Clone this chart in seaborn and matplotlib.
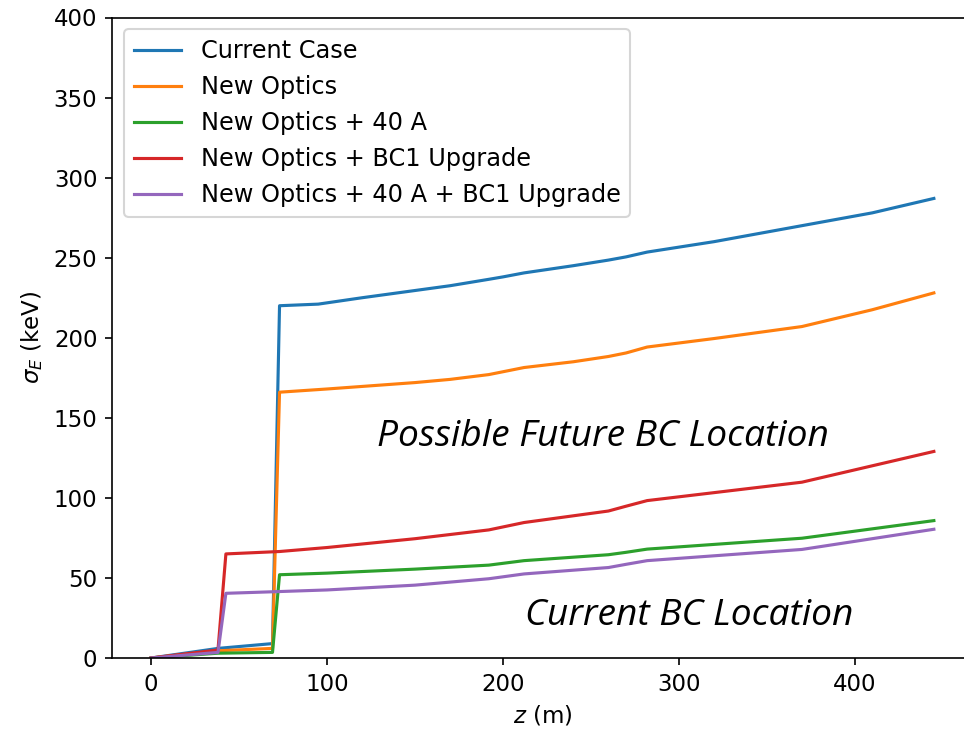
import numpy as np
import pandas as pd
import matplotlib
matplotlib.use("Agg")
import matplotlib.pyplot as plt
import seaborn as sns

# Energy spread sigma_E (keV) along the linac, z in metres
z_current = [0, 38, 69, 73, 95, 120, 150, 170, 192, 200, 212, 240, 260, 270, 282, 320, 370, 410, 445]
s_current = [0, 6, 9, 220, 221, 225, 229.5, 232.5, 236.5, 238, 240.5, 245, 248.5, 250.5, 253.5, 260, 270, 278, 287]

z_optics = [0, 38, 69, 73, 100, 150, 170, 192, 212, 240, 260, 270, 282, 320, 370, 410, 445]
s_optics = [0, 4.5, 6, 166, 168, 172, 174, 177, 181.4, 185, 188.3, 190.5, 194.2, 199.5, 207, 217.5, 228]

z_40a = [0, 38, 69, 73, 100, 150, 192, 212, 260, 270, 282, 370, 445]
s_40a = [0, 3, 3.5, 52, 53, 55.5, 58, 60.8, 64.5, 66, 68, 74.8, 85.8]

z_bc1 = [0, 38, 42.5, 73, 100, 150, 192, 212, 260, 270, 282, 370, 445]
s_bc1 = [0, 5, 65, 66.5, 69, 74.5, 80, 84.6, 91.8, 94.8, 98.3, 109.8, 129]

z_40a_bc1 = [0, 38, 42.5, 73, 100, 150, 192, 212, 260, 270, 282, 370, 445]
s_40a_bc1 = [0, 3.5, 40.4, 41.5, 42.5, 45.5, 49.5, 52.5, 56.5, 58.5, 60.8, 67.8, 80.4]

labels = [
    "Current Case",
    "New Optics",
    "New Optics + 40 A",
    "New Optics + BC1 Upgrade",
    "New Optics + 40 A + BC1 Upgrade",
]
z_series = [z_current, z_optics, z_40a, z_bc1, z_40a_bc1]
s_series = [s_current, s_optics, s_40a, s_bc1, s_40a_bc1]

frames = [pd.DataFrame({"z": z, "sigma": s, "case": lab})
          for z, s, lab in zip(z_series, s_series, labels)]
df = pd.concat(frames, ignore_index=True)

plt.rcParams["font.size"] = 11

fig = plt.figure(figsize=(964 / 150, 731 / 150), dpi=150)
ax = fig.add_axes([112 / 964, 73 / 731, 861 / 964, 640.5 / 731])

sns.lineplot(data=df, x="z", y="sigma", hue="case", hue_order=labels,
             palette="tab10", estimator=None, sort=False, linewidth=1.5, ax=ax)

ax.set_xlim(-22.25, 467.25)
ax.set_ylim(0, 400)
ax.set_xticks([0, 100, 200, 300, 400])
ax.set_yticks(np.arange(0, 401, 50))
ax.tick_params(labelsize=11)
ax.set_xlabel(r"$z$ (m)", fontsize=11)
ax.set_ylabel(r"$\sigma_E$ (keV)", fontsize=11)

ax.legend(loc="upper left", title=None, fontsize=11.5)

ax.text(0.570, 0.345, "Possible Future BC Location", transform=ax.transAxes,
        ha="center", va="center", fontsize=17.8, style="italic", family="Open Sans")
ax.text(0.6707, 0.0656, "Current BC Location", transform=ax.transAxes,
        ha="center", va="center", fontsize=17.8, style="italic", family="Open Sans")

fig.savefig("out.png", dpi=150)
